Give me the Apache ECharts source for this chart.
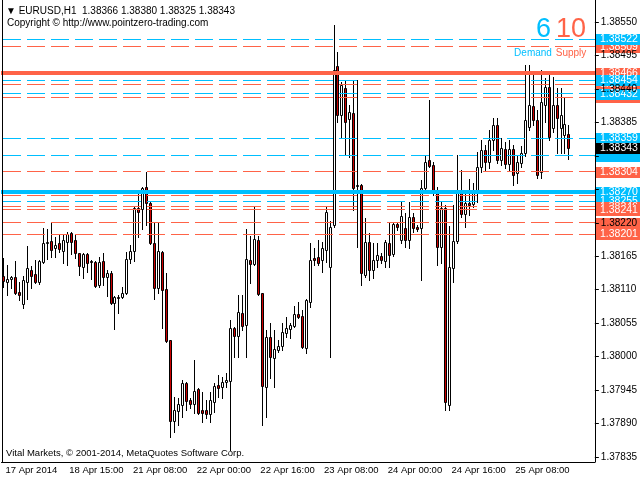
<!DOCTYPE html>
<html><head><meta charset="utf-8">
<script src="https://cdn.jsdelivr.net/npm/echarts@6/dist/echarts.min.js"></script>
<style>html,body{margin:0;padding:0;background:#fff}#c{width:640px;height:480px}</style>
</head><body><div id="c"></div>
<script>
// ---- data ----
const tickLabels = ['17 Apr 2014','18 Apr 15:00','21 Apr 08:00','22 Apr 00:00','22 Apr 16:00','23 Apr 08:00','24 Apr 00:00','24 Apr 16:00','25 Apr 08:00'];
const priceTicks = [1.37835,1.37890,1.37945,1.38000,1.38055,1.38110,1.38165,1.38220,1.38275,1.38330,1.38385,1.38440,1.38495,1.38550];
const hiddenTicks = [1.38330,1.38275];
const openP = [
1.38133,1.38123,1.38128,1.38131,1.38106,1.38086,1.38123,1.38142,1.38136,1.38123,
1.38156,1.38187,1.38190,1.38179,1.38187,1.38174,1.38188,1.38203,1.38192,1.38170,
1.38147,1.38169,1.38157,1.38156,1.38118,1.38157,1.38131,1.38137,1.38088,1.38098,
1.38098,1.38105,1.38160,1.38174,1.38244,1.38243,1.38279,1.38252,1.38187,1.38113,
1.38172,1.38111,1.38027,1.37894,1.37911,1.37920,1.37957,1.37929,1.37922,1.37947,
1.37912,1.37912,1.37906,1.37925,1.37953,1.37950,1.37958,1.37960,1.38047,1.38034,
1.38072,1.38052,1.38159,1.38152,1.38192,1.38105,1.37950,1.38032,1.37998,1.38011,
1.38017,1.38039,1.38045,1.38050,1.38070,1.38067,1.38014,1.38090,1.38162,1.38164,
1.38159,1.38175,1.38147,1.38216,1.38478,1.38397,1.38442,1.38391,1.38400,1.38280,
1.38282,1.38134,1.38188,1.38142,1.38159,1.38165,1.38157,1.38187,1.38169,1.38218,
1.38192,1.38211,1.38192,1.38229,1.38213,1.38211,1.38277,1.38323,1.38315,1.38274,
1.38180,1.38244,1.37920,1.38146,1.38190,1.38269,1.38234,1.38252,1.38251,1.38269,
1.38312,1.38340,1.38320,1.38356,1.38381,1.38323,1.38341,1.38317,1.38341,1.38302,
1.38318,1.38335,1.38377,1.38412,1.38389,1.38303,1.38414,1.38443,1.38376,1.38414,
1.38376,1.38364,1.38366];
const closeP = [
1.38124,1.38128,1.38131,1.38105,1.38101,1.38126,1.38146,1.38133,1.38123,1.38157,
1.38187,1.38188,1.38175,1.38183,1.38177,1.38192,1.38202,1.38188,1.38170,1.38149,
1.38169,1.38154,1.38156,1.38116,1.38156,1.38131,1.38137,1.38088,1.38098,1.38097,
1.38105,1.38160,1.38174,1.38244,1.38238,1.38277,1.38252,1.38187,1.38113,1.38174,
1.38109,1.38026,1.37894,1.37912,1.37922,1.37957,1.37927,1.37922,1.37943,1.37907,
1.37907,1.37906,1.37929,1.37952,1.37948,1.37958,1.37962,1.38047,1.38034,1.38073,
1.38050,1.38160,1.38152,1.38193,1.38103,1.37952,1.38032,1.37999,1.38013,1.38017,
1.38040,1.38047,1.38052,1.38070,1.38065,1.38016,1.38093,1.38159,1.38159,1.38154,
1.38179,1.38238,1.38213,1.38471,1.38397,1.38446,1.38386,1.38402,1.38277,1.38282,
1.38137,1.38188,1.38142,1.38159,1.38167,1.38159,1.38188,1.38167,1.38218,1.38213,
1.38231,1.38192,1.38229,1.38211,1.38210,1.38277,1.38320,1.38313,1.38272,1.38180,
1.38244,1.37925,1.38147,1.38190,1.38269,1.38234,1.38252,1.38249,1.38269,1.38312,
1.38340,1.38320,1.38356,1.38381,1.38323,1.38343,1.38317,1.38341,1.38299,1.38320,
1.38335,1.38389,1.38414,1.38389,1.38299,1.38419,1.38443,1.38361,1.38414,1.38392,
1.38397,1.38382,1.38343];
const highP = [
1.38162,1.38151,1.38133,1.38157,1.38123,1.38133,1.38182,1.38149,1.38159,1.38159,
1.38211,1.38210,1.38221,1.38197,1.38202,1.38200,1.38205,1.38205,1.38200,1.38171,
1.38171,1.38171,1.38159,1.38157,1.38164,1.38170,1.38142,1.38141,1.38100,1.38101,
1.38114,1.38172,1.38183,1.38246,1.38271,1.38279,1.38303,1.38254,1.38221,1.38220,
1.38174,1.38137,1.38027,1.37934,1.37932,1.37962,1.37958,1.37932,1.37994,1.37948,
1.37942,1.37929,1.37942,1.37957,1.37970,1.37966,1.37973,1.38060,1.38049,1.38101,
1.38101,1.38210,1.38198,1.38246,1.38198,1.38105,1.38044,1.38055,1.38044,1.38027,
1.38055,1.38065,1.38055,1.38083,1.38090,1.38077,1.38095,1.38187,1.38179,1.38192,
1.38188,1.38246,1.38223,1.38545,1.38501,1.38451,1.38455,1.38414,1.38455,1.38455,
1.38283,1.38228,1.38203,1.38187,1.38187,1.38170,1.38192,1.38220,1.38220,1.38220,
1.38254,1.38236,1.38254,1.38236,1.38216,1.38290,1.38331,1.38422,1.38320,1.38279,
1.38254,1.38249,1.38215,1.38249,1.38331,1.38307,1.38269,1.38292,1.38285,1.38336,
1.38356,1.38348,1.38372,1.38392,1.38392,1.38359,1.38353,1.38356,1.38348,1.38331,
1.38346,1.38479,1.38479,1.38468,1.38405,1.38471,1.38458,1.38469,1.38460,1.38442,
1.38442,1.38425,1.38380];
const lowP = [
1.38114,1.38101,1.38113,1.38103,1.38093,1.38080,1.38095,1.38113,1.38121,1.38119,
1.38154,1.38160,1.38164,1.38164,1.38172,1.38154,1.38151,1.38169,1.38162,1.38134,
1.38129,1.38139,1.38128,1.38114,1.38114,1.38118,1.38100,1.38086,1.38045,1.38072,
1.38096,1.38103,1.38154,1.38157,1.38197,1.38210,1.38216,1.38185,1.38095,1.38105,
1.38047,1.38024,1.37868,1.37876,1.37888,1.37901,1.37912,1.37916,1.37907,1.37906,
1.37893,1.37899,1.37893,1.37909,1.37934,1.37932,1.37950,1.37846,1.37999,1.37999,
1.38044,1.37999,1.38121,1.38151,1.38101,1.37888,1.37901,1.37965,1.37950,1.38008,
1.38011,1.38032,1.38031,1.38049,1.38063,1.38014,1.38006,1.38082,1.38151,1.38151,
1.38139,1.38156,1.37999,1.38213,1.38386,1.38361,1.38331,1.38328,1.38241,1.38180,
1.38118,1.38131,1.38126,1.38129,1.38147,1.38154,1.38147,1.38147,1.38165,1.38208,
1.38187,1.38180,1.38179,1.38205,1.38206,1.38126,1.38274,1.38312,1.38266,1.38151,
1.38154,1.37912,1.37912,1.38123,1.38187,1.38229,1.38213,1.38233,1.38246,1.38254,
1.38303,1.38307,1.38310,1.38340,1.38318,1.38315,1.38310,1.38307,1.38282,1.38285,
1.38312,1.38330,1.38372,1.38381,1.38294,1.38294,1.38386,1.38356,1.38369,1.38335,
1.38335,1.38335,1.38325];
const demandLevels = [1.38522,1.38454,1.38432,1.38359,1.38330,1.38255];
const demandMain = 1.38270;
const supplyLevels = [1.38509,1.38448,1.38426,1.38304,1.38265,1.38246,1.38241,1.38220,1.38201];
const supplyMain = 1.38466;
const lastPrice = 1.38343;
const demandCount = 6, supplyCount = 10;
const headerText = '\u25BC EURUSD,H1  1.38366 1.38380 1.38325 1.38343';

// ---- build ----
const TOTAL_SLOTS = 149;
const categories = [];
(function(){
  const M = ['Jan','Feb','Mar','Apr','May','Jun','Jul','Aug','Sep','Oct','Nov','Dec'];
  let t = Date.UTC(2014,3,17,23);
  while (categories.length < TOTAL_SLOTS) {
    const d = new Date(t), wd = d.getUTCDay(), h = d.getUTCHours();
    if (!(wd === 6 || wd === 0 || (wd === 5 && h === 23))) {
      categories.push(d.getUTCDate() + ' ' + M[d.getUTCMonth()] + ' ' + String(h).padStart(2,'0') + ':00');
    }
    t += 3600000;
  }
})();
const candleData = openP.map((o,i) => [i, o, closeP[i], lowP[i], highP[i]]);

const FONT = '"Liberation Sans", Arial, "DejaVu Sans", sans-serif';
const BLUE = '#00BFFF', RED = '#FF6347', BEAR = '#cc0000';
const tickStr = priceTicks.map(v => v.toFixed(5));

function renderCandle(params, api) {
  const i = api.value(0), o = api.value(1), c = api.value(2), l = api.value(3), h = api.value(4);
  const pO = api.coord([i, o]);
  const cx = Math.floor(pO[0]);
  const yO = pO[1], yC = api.coord([i, c])[1];
  const yH = Math.round(api.coord([i, h])[1]), yL = Math.round(api.coord([i, l])[1]);
  const top = Math.round(Math.min(yO, yC)) + 0.5, bot = Math.round(Math.max(yO, yC)) + 0.5;
  return { type: 'group', children: [
    { type: 'line', shape: { x1: cx + 0.5, y1: yH, x2: cx + 0.5, y2: yL + 1 }, style: { stroke: '#000', lineWidth: 1 } },
    { type: 'rect', shape: { x: cx - 0.5, y: top, width: 2, height: bot - top },
      style: { fill: c >= o ? '#ffffff' : BEAR, stroke: '#000', lineWidth: 1 } }
  ] };
}

// draw order of level objects (later ones on top)
const bottomDemand = Math.min.apply(null, demandLevels.concat([demandMain]));
const levelList = [];
supplyLevels.concat([supplyMain]).filter(v => v > bottomDemand).sort((a,b)=>b-a)
  .forEach(v => levelList.push({ v: v, color: RED, thick: v === supplyMain, line: true }));
demandLevels.concat([demandMain]).sort((a,b)=>b-a)
  .forEach(v => levelList.push({ v: v, color: BLUE, thick: v === demandMain, line: true }));
supplyLevels.filter(v => v < bottomDemand).sort((a,b)=>b-a)
  .forEach(v => levelList.push({ v: v, color: RED, thick: false, line: true }));
levelList.push({ v: lastPrice, color: '#000', thick: false, line: false });

function renderLevel(params, api) {
  const it = levelList[params.dataIndex];
  const cs = params.coordSys;
  const y = api.coord([0, it.v])[1];
  const yr = Math.round(y);
  const right = Math.round(cs.x + cs.width);
  const children = [];
  if (it.line) {
    if (it.thick) {
      children.push({ type: 'rect', shape: { x: Math.floor(cs.x), y: yr - 2, width: right - Math.floor(cs.x), height: 4 },
        style: { fill: it.color } });
    } else {
      const yy = Math.floor(y);
      for (let x = 3; x < right; x += 24) {
        children.push({ type: 'rect', shape: { x: x, y: yy, width: Math.min(18, right - x), height: 1 },
          style: { fill: it.color } });
      }
    }
  }
  const txt = it.v.toFixed(5);
  const bx = right + 1;
  children.push({ type: 'rect', shape: { x: bx, y: yr - 5, width: 44, height: 11 }, style: { fill: it.color } });
  children.push({ type: 'text', style: {
    text: txt, x: bx + 4, y: yr + 0.5, align: 'left', verticalAlign: 'middle',
    fill: tickStr.indexOf(txt) >= 0 ? 'rgba(0,0,0,0)' : '#fff', font: '10.5px ' + FONT } });
  return { type: 'group', children: children };
}

// y-axis range: 1.38550 at y=22, 1.37835 at y=457 ; plot from y=0 to y=462
const pxPerUnit = (457 - 22) / (1.38550 - 1.37835);
const yMax = 1.38550 + 22 / pxPerUnit;
const yMin = 1.38550 - (462 - 22) / pxPerUnit;

const chart = echarts.init(document.getElementById('c'));
chart.setOption({
  animation: false,
  backgroundColor: '#fff',
  textStyle: { fontFamily: FONT },
  grid: { left: 1.5, right: 640 - 1.5 - TOTAL_SLOTS * 4, top: 0, bottom: 18 },
  xAxis: {
    type: 'category', data: categories, boundaryGap: true,
    axisLine: { lineStyle: { color: '#000', width: 1 } },
    axisTick: { alignWithLabel: true, length: 4, lineStyle: { color: '#000' },
      interval: (i) => i % 16 === 0 && i / 16 < tickLabels.length },
    axisLabel: { interval: (i) => i % 16 === 0 && i / 16 < tickLabels.length,
      formatter: (v, i) => (i % 16 === 0 && tickLabels[i / 16]) ? tickLabels[i / 16] : '',
      align: 'left', margin: 3, padding: [0, 0, 0, 2], color: '#000', fontSize: 9.5, fontFamily: FONT },
    splitLine: { show: false }
  },
  yAxis: {
    type: 'value', position: 'right', min: yMin, max: yMax, scale: true, z: 10,
    axisLine: { show: true, lineStyle: { color: '#000', width: 1 } },
    axisTick: { show: true, length: 4, customValues: priceTicks, lineStyle: { color: '#000' } },
    axisLabel: { customValues: priceTicks.filter(v => hiddenTicks.indexOf(v) < 0),
      formatter: (v) => v.toFixed(5), margin: 6, color: '#000', fontSize: 10, fontFamily: FONT },
    splitLine: { show: false }
  },
  series: [
    {
      type: 'custom', z: 2, silent: true, clip: false,
      data: candleData, encode: { x: 0, y: [1, 2, 3, 4] },
      renderItem: renderCandle
    },
    {
      type: 'custom', z: 5, silent: true, clip: false,
      data: levelList.map(l => [0, l.v]),
      encode: { x: 0, y: 1 },
      renderItem: renderLevel
    }
  ],
  graphic: [
    { type: 'line', shape: { x1: 2.5, y1: 0, x2: 2.5, y2: 462 }, style: { stroke: '#000', lineWidth: 1 }, z: 10 },
    { type: 'text', x: 6, y: 11, z: 20, style: { text: headerText, font: '10px ' + FONT, fill: '#000', textVerticalAlign: 'middle' } },
    { type: 'text', x: 7, y: 23.5, z: 20, style: { text: 'Copyright \u00A9 http://www.pointzero-trading.com', font: '10px ' + FONT, fill: '#000', textVerticalAlign: 'middle' } },
    { type: 'text', x: 6, y: 453, z: 20, style: { text: 'Vital Markets, \u00A9 2001-2014, MetaQuotes Software Corp.', font: '9.5px ' + FONT, fill: '#000', textVerticalAlign: 'middle' } },
    { type: 'text', x: 551, y: 30, z: 20, style: { text: String(demandCount), font: '27px ' + FONT, fill: BLUE, textAlign: 'right', textVerticalAlign: 'middle' } },
    { type: 'text', x: 556, y: 30, z: 20, style: { text: String(supplyCount), font: '27px ' + FONT, fill: RED, textAlign: 'left', textVerticalAlign: 'middle' } },
    { type: 'text', x: 533, y: 53.5, z: 20, style: { text: 'Demand', font: '10px ' + FONT, fill: BLUE, textAlign: 'center', textVerticalAlign: 'middle' } },
    { type: 'text', x: 571, y: 53.5, z: 20, style: { text: 'Supply', font: '10px ' + FONT, fill: RED, textAlign: 'center', textVerticalAlign: 'middle' } }
  ]
});
</script>
</body></html>
